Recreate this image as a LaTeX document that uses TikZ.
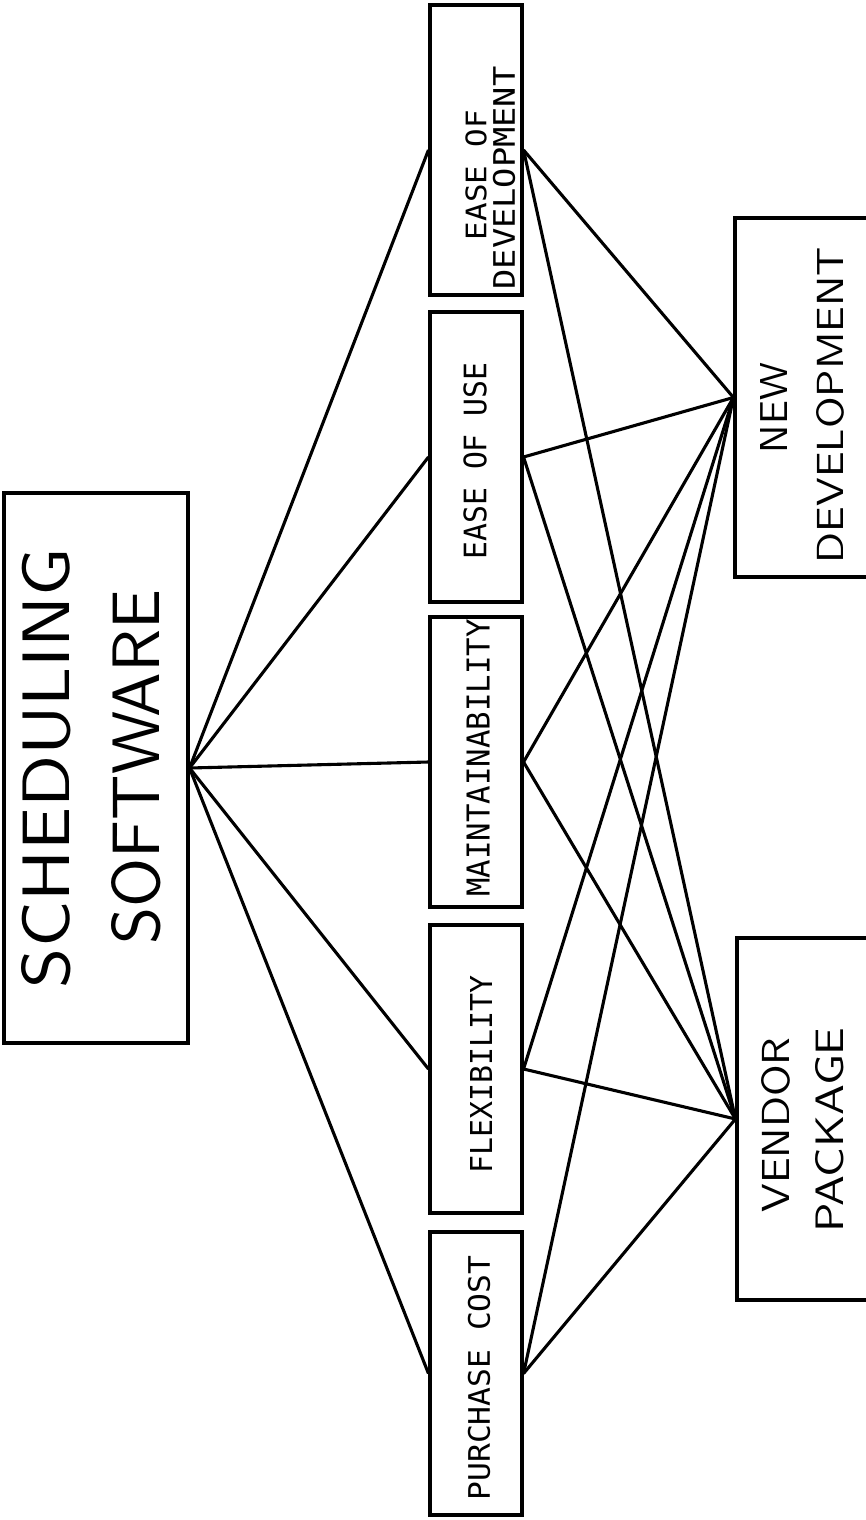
\documentclass[tikz,border=0pt]{standalone}
\usepackage{fontspec}
\usepackage{graphicx}
\newfontfamily\monolbl{DejaVu Sans Mono}
\tikzset{
  box/.style={draw, line width=3.1pt, inner sep=0pt},
  link/.style={line width=3.1pt},
  lbl/.style={rotate=90, inner sep=0pt, anchor=center},
}
% \biglbl{length}{height}{text}, \smalllbl{length}{height}{text}
\newcommand{\biglbl}[3]{\resizebox{#1pt}{#2pt}{\sffamily #3}}
\newcommand{\smalllbl}[3]{\resizebox{#1pt}{#2pt}{\monolbl #3}}
\begin{document}
\begin{tikzpicture}[x=1pt,y=-1pt]
\useasboundingbox (0,0) rectangle (866,1520);

% goal
\node[box, minimum width=184pt, minimum height=550pt] (ss) at (96,768) {};
\node[lbl] (ssA) at (46,768) {\biglbl{440}{48}{SCHEDULING}};
\node[lbl] (ssB) at (136,767) {\biglbl{355}{48}{SOFTWARE}};

% criteria
\node[box, minimum width=92pt, minimum height=290pt] (eod) at (476,150) {};
\node[box, minimum width=92pt, minimum height=290pt] (eou) at (476,457) {};
\node[box, minimum width=92pt, minimum height=290pt] (mn)  at (476,762) {};
\node[box, minimum width=92pt, minimum height=288pt] (fx)  at (476,1069) {};
\node[box, minimum width=92pt, minimum height=283pt] (pc)  at (476,1373.5) {};

\node[lbl] (eodA) at (476,175) {\smalllbl{130}{21}{EASE OF}};
\node[lbl] (eodB) at (504,178) {\smalllbl{223}{22}{DEVELOPMENT}};
\node[lbl] (eouT) at (475,461) {\smalllbl{197}{23}{EASE OF USE}};
\node[lbl] (mnT)  at (478,758) {\smalllbl{277}{23}{MAINTAINABILITY}};
\node[lbl] (fxT)  at (481,1074) {\smalllbl{198}{22}{FLEXIBILITY}};
\node[lbl] (pcT)  at (479,1378) {\smalllbl{245}{22}{PURCHASE COST}};

% alternatives (their right sides run past the edge)
\node[box, minimum width=135pt, minimum height=359pt] (nd) at (802.5,397.5) {};
\node[box, minimum width=133pt, minimum height=362pt] (vp) at (803.5,1119) {};
\node[lbl] (ndA) at (773.5,408) {\biglbl{90}{27}{NEW}};
\node[lbl] (ndB) at (830,405)   {\biglbl{316}{27}{DEVELOPMENT}};
\node[lbl] (vpA) at (776,1125)  {\biglbl{175}{28}{VENDOR}};
\node[lbl] (vpB) at (830,1130)  {\biglbl{205}{28}{PACKAGE}};

% goal to criteria
\foreach \c in {eod,eou,mn,fx,pc}
  \draw[link] (ss.east) -- (\c.west);
% criteria to alternatives
\foreach \c in {eod,eou,mn,fx,pc} {
  \draw[link] (\c.east) -- (nd.west);
  \draw[link] (\c.east) -- (vp.west);
}
\end{tikzpicture}
\end{document}
